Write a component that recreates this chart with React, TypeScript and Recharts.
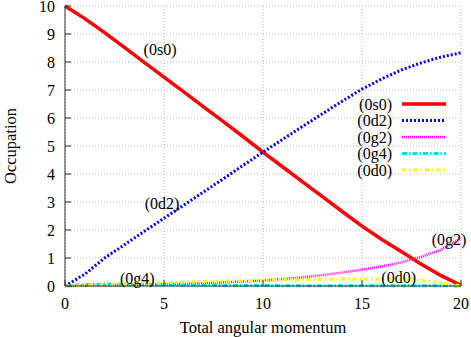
import React from 'react';
import { LineChart, Line, XAxis, YAxis, CartesianGrid, Legend, ReferenceDot } from 'recharts';

const L = [0, 1, 2, 3, 4, 5, 6, 7, 8, 9, 10, 11, 12, 13, 14, 15, 16, 17, 18, 19, 20];
const s0 = [10, 9.55, 9.05, 8.52, 7.99, 7.46, 6.93, 6.4, 5.87, 5.33, 4.78, 4.25, 3.72, 3.19, 2.66, 2.14, 1.66, 1.22, 0.78, 0.37, 0.02];
const d2 = [0, 0.42, 1.0, 1.47, 1.95, 2.42, 2.89, 3.36, 3.83, 4.31, 4.78, 5.24, 5.7, 6.15, 6.6, 7.03, 7.4, 7.72, 7.97, 8.18, 8.33];
const g2 = [0, 0.01, 0.02, 0.03, 0.05, 0.06, 0.08, 0.1, 0.13, 0.16, 0.2, 0.25, 0.31, 0.39, 0.48, 0.58, 0.7, 0.85, 1.04, 1.3, 1.7];
const g4 = [0, 0.05, 0.07, 0.06, 0.05, 0.04, 0.03, 0.03, 0.02, 0.02, 0.02, 0.01, 0.01, 0.01, 0.01, 0.01, 0.01, 0.01, 0.01, 0.01, 0.0];
const d0 = [0, 0.02, 0.04, 0.07, 0.1, 0.12, 0.14, 0.16, 0.18, 0.19, 0.21, 0.22, 0.23, 0.24, 0.25, 0.25, 0.25, 0.24, 0.2, 0.12, 0.0];

const xTicks = [0, 5, 10, 15, 20];
const yTicks = [0, 1, 2, 3, 4, 5, 6, 7, 8, 9, 10];

const labelNames = ['(0s0)', '(0d2)', '(0g2)', '(0g4)', '(0d0)'];
const labelX = [4.8, 4.9, 19.4, 3.65, 16.85];
const labelY = [8.45, 2.96, 1.68, 0.28, 0.32];

const FONT = "'Liberation Serif', 'Times New Roman', serif";

const series = [
  { key: 's0', name: '(0s0)', color: '#ff0000', width: 3.5, dash: undefined as string | undefined },
  { key: 'd2', name: '(0d2)', color: '#0000ff', width: 3, dash: '2 2' },
  { key: 'g2', name: '(0g2)', color: '#ff00ff', width: 2.5, dash: '1 1' },
  { key: 'g4', name: '(0g4)', color: '#00e0e0', width: 3, dash: '5 2 1.5 2' },
  { key: 'd0', name: '(0d0)', color: '#ffff00', width: 3, dash: '4 3 1.5 3' },
];

const data = L.map((l, i) => ({ L: l, s0: s0[i], d2: d2[i], g2: g2[i], g4: g4[i], d0: d0[i] }));

const TICK = 6;

const XTickBottom = (p: any) => (
  <g>
    <line x1={p.x} x2={p.x} y1={p.y} y2={p.y - TICK} stroke="#333" strokeWidth={1} />
    <text x={p.x} y={p.y + 17} textAnchor="middle" dominantBaseline="central" fontFamily={FONT} fontSize={16} fill="#000">
      {p.payload.value}
    </text>
  </g>
);
const XTickTop = (p: any) => (
  <line x1={p.x} x2={p.x} y1={p.y} y2={p.y + TICK} stroke="#333" strokeWidth={1} />
);
const YTickLeft = (p: any) => (
  <g>
    <line x1={p.x} x2={p.x + TICK} y1={p.y} y2={p.y} stroke="#333" strokeWidth={1} />
    <text x={p.x - 10} y={p.y + 0.5} textAnchor="end" dominantBaseline="central" fontFamily={FONT} fontSize={16} fill="#000">
      {p.payload.value}
    </text>
  </g>
);
const YTickRight = (p: any) => (
  <line x1={p.x} x2={p.x - TICK} y1={p.y} y2={p.y} stroke="#777" strokeWidth={1} />
);

const LegendContent = () => (
  <svg width={125} height={85}>
    {series.map((s, i) => (
      <g key={s.key}>
        <text x={62} y={9 + i * 16.5} textAnchor="end" dominantBaseline="central" fontFamily={FONT} fontSize={16} fill="#000">
          {s.name}
        </text>
        <line x1={72} x2={116} y1={9 + i * 16.5} y2={9 + i * 16.5} stroke={s.color} strokeWidth={s.width} strokeDasharray={s.dash} />
      </g>
    ))}
  </svg>
);

export default function App() {
  return (
    <div style={{ position: 'absolute', left: 0, top: 0, background: '#fff' }}>
      <LineChart width={471} height={337} data={data} margin={{ top: 6, right: 10, left: 0, bottom: 0 }}>
        <CartesianGrid stroke="#b8b8b8" strokeDasharray="1 2" horizontalValues={yTicks} verticalValues={xTicks} />
        <XAxis
          xAxisId={0}
          dataKey="L"
          type="number"
          domain={[0, 20]}
          ticks={xTicks}
          interval={0}
          height={51}
          tickSize={0}
          tickMargin={0}
          tickLine={false}
          tick={XTickBottom}
          axisLine={{ stroke: '#333' }}
          label={{
            content: (p: any) => (
              <text
                x={p.viewBox.x + p.viewBox.width / 2}
                y={p.viewBox.y + 41}
                textAnchor="middle"
                dominantBaseline="central"
                fontFamily={FONT}
                fontSize={16.5}
                fill="#000"
              >
                Total angular momentum
              </text>
            ),
          }}
        />
        <XAxis
          xAxisId="top"
          orientation="top"
          dataKey="L"
          type="number"
          domain={[0, 20]}
          ticks={xTicks}
          interval={0}
          height={0}
          tickSize={0}
          tickMargin={0}
          tickLine={false}
          tick={XTickTop}
          axisLine={{ stroke: '#333' }}
        />
        <YAxis
          yAxisId={0}
          type="number"
          domain={[0, 10]}
          ticks={yTicks}
          interval={0}
          width={65}
          tickSize={0}
          tickMargin={0}
          tickLine={false}
          tick={YTickLeft}
          axisLine={{ stroke: '#333' }}
          label={{
            content: (p: any) => {
              const cx = p.viewBox.x + 10;
              const cy = p.viewBox.y + p.viewBox.height / 2;
              return (
                <text
                  x={cx}
                  y={cy}
                  transform={`rotate(-90 ${cx} ${cy})`}
                  textAnchor="middle"
                  dominantBaseline="central"
                  fontFamily={FONT}
                  fontSize={16.5}
                  fill="#000"
                >
                  Occupation
                </text>
              );
            },
          }}
        />
        <YAxis
          yAxisId="right"
          orientation="right"
          type="number"
          domain={[0, 10]}
          ticks={yTicks}
          interval={0}
          width={0}
          tickSize={0}
          tickMargin={0}
          tickLine={false}
          tick={YTickRight}
          axisLine={{ stroke: '#777' }}
        />
        {series.map((s) => (
          <Line
            key={s.key}
            xAxisId={0}
            yAxisId={0}
            type="linear"
            dataKey={s.key}
            name={s.name}
            stroke={s.color}
            strokeWidth={s.width}
            strokeDasharray={s.dash}
            dot={false}
            activeDot={false}
            isAnimationActive={false}
          />
        ))}
        {labelNames.map((n, i) => (
          <ReferenceDot
            key={n}
            xAxisId={0}
            yAxisId={0}
            x={labelX[i]}
            y={labelY[i]}
            r={0}
            fill="none"
            stroke="none"
            ifOverflow="visible"
            label={{ value: n, position: 'center', fontFamily: FONT, fontSize: 16, fill: '#000' }}
          />
        ))}
        <Legend
          layout="vertical"
          align="center"
          verticalAlign="middle"
          content={LegendContent}
          wrapperStyle={{ position: 'absolute', left: 330, top: 95, width: 125, height: 85 }}
        />
      </LineChart>
    </div>
  );
}
